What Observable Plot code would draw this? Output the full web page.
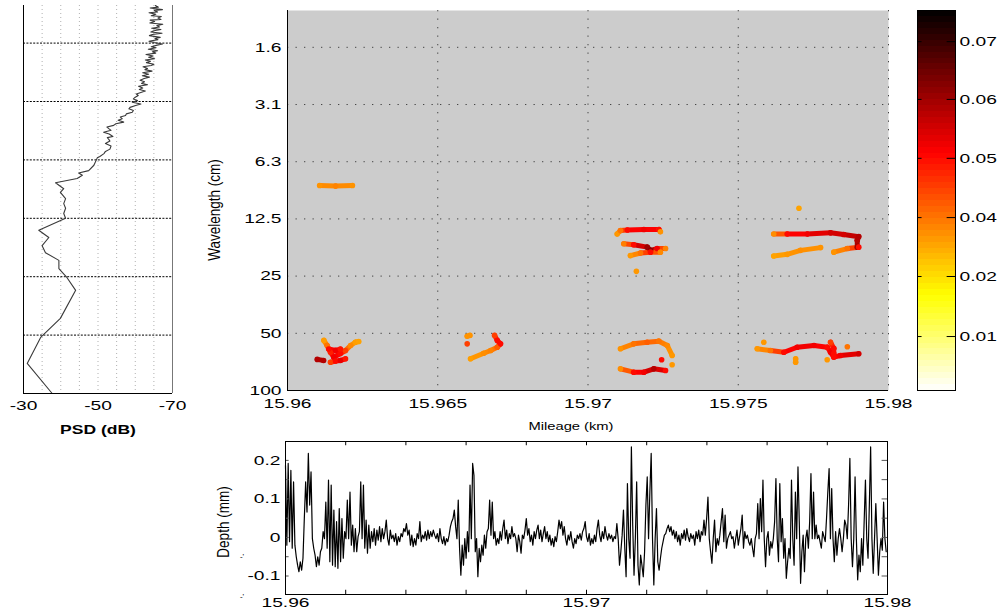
<!DOCTYPE html>
<html><head><meta charset="utf-8">
<script src="https://cdn.jsdelivr.net/npm/d3@7"></script>
<script src="https://cdn.jsdelivr.net/npm/@observablehq/plot@0.6"></script>
<style>
body{margin:0;background:#fff;}
#chart{position:relative;width:999px;height:612px;overflow:hidden;background:#fff;font-family:"Liberation Sans",Arial,sans-serif;color:#000;}
.ttl{position:absolute;white-space:nowrap;line-height:1;color:#000;font-family:"Liberation Sans",Arial,sans-serif;}
</style></head><body><div id="chart"></div>
<script>
// ---------- axis ticks / labels ----------
const wlTicks = [1.5625, 3.125, 6.25, 12.5, 25, 50, 100];
const wlTickLabels = ["1.6","3.1","6.3","12.5","25","50","100"];
const mileageTicks = [15.96, 15.965, 15.97, 15.975, 15.98];
const mileageTickLabels = ["15.96","15.965","15.97","15.975","15.98"];
const psdTicks = [-30, -50, -70];
const psdTickLabels = ["-30","-50","-70"];
const psdGrid = [-35, -40, -45, -50, -55, -60, -65];
const depthTicks = [-0.1, 0, 0.1, 0.2];
const depthTickLabels = ["-0.1","0","0.1","0.2"];
const depthMinorTicks = [-0.1, -0.05, 0, 0.05, 0.1, 0.15, 0.2];
const depthMileTicks = [15.96, 15.962, 15.964, 15.966, 15.968, 15.97, 15.972, 15.974, 15.976, 15.978, 15.98];
const depthMileLabelTicks = [15.96, 15.97, 15.98];
const depthMileLabels = ["15.96","15.97","15.98"];
const cbTickValues = [0.01, 0.02, 0.04, 0.05, 0.06, 0.07];
const cbTickLabels = ["0.01","0.02","0.04","0.05","0.06","0.07"];
const cbTickPos = [0.142, 0.300, 0.455, 0.611, 0.766, 0.918];

// ---------- PSD (left panel) ----------
const psdWavelength = [1.00,1.02,1.03,1.05,1.06,1.08,1.09,1.11,1.13,1.14,1.16,1.18,1.19,1.21,1.23,1.25,1.27,1.29,1.31,1.33,1.35,1.37,1.39,1.41,1.43,1.46,1.48,1.50,1.53,1.55,1.58,1.60,1.63,1.65,1.68,1.71,1.73,1.76,1.79,1.82,1.85,1.88,1.91,1.94,1.97,2.01,2.04,2.07,2.11,2.14,2.18,2.22,2.26,2.30,2.34,2.38,2.43,2.47,2.52,2.56,2.61,2.66,2.71,2.76,2.81,2.86,2.91,2.97,3.03,3.09,3.15,3.22,3.28,3.35,3.41,3.48,3.55,3.62,3.69,3.76,3.83,3.90,3.99,4.07,4.15,4.23,4.31,4.40,4.50,4.60,4.73,4.80,4.90,5.00,5.15,5.30,5.50,5.65,5.80,6.00,6.10,6.66,7.10,7.30,7.50,7.80,8.20,8.80,9.20,9.90,10.5,11.1,11.8,12.5,14.4,15.7,17.3,18.8,20.6,22.7,25.3,29.4,41,51.4,70,100];
const psdDb = [-65.4,-66.2,-64.0,-67.3,-65.1,-66.0,-63.7,-65.5,-64.3,-67.0,-66.1,-66.9,-64.0,-65.2,-63.9,-67.4,-65.8,-66.5,-64.4,-66.9,-65.0,-64.2,-67.2,-64.6,-63.8,-66.7,-65.3,-66.1,-63.7,-65.0,-67.3,-65.9,-64.3,-65.6,-63.5,-66.0,-64.6,-65.5,-62.9,-64.8,-63.6,-65.2,-62.7,-64.1,-63.0,-65.0,-64.3,-62.1,-63.3,-62.6,-64.5,-62.0,-63.6,-61.9,-63.8,-62.4,-61.3,-62.5,-61.7,-63.3,-60.9,-62.0,-61.1,-62.7,-61.5,-60.3,-60.8,-60.0,-59.5,-60.6,-59.2,-61.5,-60.1,-58.6,-58.3,-59.5,-59.2,-57.6,-57.4,-56.0,-56.5,-55.4,-56.9,-54.8,-54.2,-52.4,-52.9,-53.5,-51.5,-53.0,-54.0,-52.5,-52.9,-53.2,-52.0,-53.5,-53.2,-52.0,-51.6,-50.5,-49.8,-48.9,-47.5,-44.8,-45.8,-44.4,-38.6,-40.8,-39.9,-41.3,-40.8,-41.3,-40.8,-41.3,-34.1,-36.8,-35.0,-35.9,-39.5,-39.5,-41.7,-44.0,-39.9,-34.6,-31.0,-37.7];

// ---------- wavelength-mileage tracks: [mileage km, wavelength cm, amplitude] ----------
const trackA = [[15.96107,8.34,0.034],[15.9616,8.4,0.037],[15.96216,8.34,0.034]];
const trackB = [[15.96121,54.5,0.032],[15.96132,58.0,0.040],[15.96143,62.9,0.048],[15.96154,66.8,0.052],[15.96176,63.9,0.050],[15.96193,61.6,0.045],[15.9621,58.0,0.036],[15.96226,55.7,0.032],[15.96237,55.2,0.031]];
const trackC = [[15.96137,60.5,0.050],[15.9616,61.5,0.052],[15.96176,60.5,0.049]];
const trackD = [[15.96143,71.0,0.045],[15.9616,70.0,0.050],[15.96176,69.5,0.053],[15.96193,68.1,0.049]];
const trackE = [[15.96099,68.6,0.058],[15.9612,69.5,0.058]];
const trackF = [[15.96598,51.8,0.034],[15.96607,51.3,0.034]];
const trackG = [[15.96598,56.8,0.045]];
const trackH = [[15.96609,68.1,0.032],[15.96653,63.7,0.035],[15.96676,61.6,0.037],[15.96698,59.2,0.042],[15.96709,56.8,0.050],[15.96698,54.5,0.050],[15.96689,51.3,0.045]];
const trackI = [[15.97097,15.0,0.033],[15.97108,14.4,0.040],[15.97131,14.3,0.050],[15.97186,14.2,0.052],[15.97236,14.2,0.050],[15.97241,14.6,0.034]];
const trackJ = [[15.97119,16.9,0.038],[15.97152,17.1,0.050],[15.97197,17.6,0.060],[15.97208,18.3,0.062],[15.9723,17.9,0.052],[15.97258,17.9,0.037]];
const trackK = [[15.97141,19.5,0.033],[15.97175,18.9,0.040],[15.97208,18.7,0.050],[15.97241,18.7,0.036]];
const trackL = [[15.97161,23.6,0.033]];
const trackM = [[15.97618,15.0,0.035],[15.97663,15.0,0.050],[15.9773,15.0,0.052],[15.97807,14.8,0.055],[15.97851,15.1,0.055],[15.97901,15.5,0.058],[15.97896,16.2,0.058],[15.97896,17.6,0.060]];
const trackN = [[15.97618,19.6,0.031],[15.97663,19.2,0.033],[15.97707,18.3,0.035],[15.97774,17.7,0.034]];
const trackO = [[15.97818,18.7,0.034],[15.97863,17.9,0.040],[15.97901,17.6,0.050]];
const trackP = [[15.97702,10.98,0.031]];
const trackQ = [[15.97108,60.3,0.034],[15.97152,56.8,0.040],[15.97197,55.7,0.042],[15.97236,55.0,0.040],[15.97264,58.0,0.036],[15.9728,65.4,0.033]];
const trackR = [[15.97245,68.9,0.050]];
const trackS = [[15.9728,73.2,0.033]];
const trackT = [[15.97108,76.9,0.035],[15.97152,80.1,0.050],[15.97186,80.1,0.052],[15.97219,76.9,0.058],[15.97258,78.5,0.050]];
const trackU = [[15.97563,60.3,0.033],[15.97607,61.6,0.040],[15.97652,62.9,0.050],[15.97696,59.2,0.052],[15.97752,58.0,0.052],[15.97796,59.2,0.050],[15.97807,62.9,0.052],[15.97818,66.8,0.050],[15.9784,65.4,0.052],[15.97901,64.1,0.055]];
const trackV = [[15.97807,55.7,0.045],[15.97818,60.0,0.050],[15.97818,64.0,0.050]];
const trackW = [[15.97585,55.7,0.033]];
const trackX = [[15.97691,68.1,0.033],[15.97691,71.0,0.033]];
const trackY = [[15.97863,58.8,0.040]];
const trackZ = [[15.97796,68.9,0.033]];
const tracks = [trackA,trackB,trackC,trackD,trackE,trackF,trackG,trackH,trackI,trackJ,trackK,trackL,trackM,trackN,trackO,trackP,trackQ,trackR,trackS,trackT,trackU,trackV,trackW,trackX,trackY,trackZ];

// ---------- depth signal (four uniformly sampled stretches) ----------
const depthSegStart = [15.96, 15.965, 15.97, 15.975];
const depthSegEnd = [15.965, 15.97, 15.975, 15.98];
const depthSeg1 = [0.187,-0.020,0.192,-0.011,0.174,-0.028,0.144,-0.020,-0.050,-0.072,
-0.089,-0.063,-0.085,-0.054,0.049,0.144,0.066,0.218,0.084,0.170,
-0.003,-0.028,-0.046,-0.076,-0.050,-0.072,-0.037,-0.028,0.015,-0.003,
0.092,-0.028,0.149,-0.063,0.136,-0.072,0.071,-0.076,0.041,-0.080,
0.075,-0.063,0.049,-0.054,0.015,-0.003,0.097,-0.003,0.118,-0.020,
0.032,-0.037,0.023,-0.037,0.002,0.015,0.144,-0.003,0.136,-0.028,
0.045,-0.041,0.032,-0.028,0.015,-0.011,0.023,-0.020,0.019,-0.007,
0.028,-0.011,0.023,-0.003,0.015,0.045,-0.003,-0.020,0.019,-0.003,
0.006,-0.011,0.010,-0.020,0.002,-0.011,0.010,0.002,0.023,0.015,
0.036,0.006,0.019,-0.020,0.006,-0.024,-0.003,-0.020,0.010,-0.003,
0.041,-0.011,0.006,-0.003,0.015,-0.007,0.019,-0.003,0.015,0.002,
0.019,0.006];
const depthSeg2 = [-0.003,0.010,-0.011,0.023,-0.003,-0.016,0.002,-0.020,-0.003,-0.011,
0.006,0.028,0.041,0.049,0.071,0.028,-0.003,0.097,-0.028,-0.098,
-0.020,-0.072,-0.003,-0.054,0.015,-0.037,0.136,-0.003,0.192,0.161,
-0.037,-0.003,-0.102,-0.028,-0.063,-0.020,-0.046,0.006,-0.028,0.015,
0.023,0.097,0.006,0.092,-0.003,0.015,-0.020,-0.003,-0.016,0.015,
-0.007,0.023,0.045,-0.003,0.019,-0.016,0.010,-0.003,0.028,0.002,
0.010,-0.003,-0.037,0.006,-0.011,-0.041,0.006,-0.003,0.019,0.049,
0.006,0.023,-0.011,0.006,-0.020,0.015,-0.003,0.019,0.032,-0.003,
0.019,-0.011,0.010,0.028,-0.003,0.015,-0.011,0.006,-0.020,-0.003,
-0.024,0.002,-0.011,0.015,0.045,0.023,0.041,0.006,0.028,-0.003,
-0.020,0.006,-0.007,0.015,-0.011,-0.028,-0.003,-0.016,0.006,-0.003,
0.010,-0.007,0.015,0.023,0.041];
const depthSeg3 = [0.002,-0.011,0.010,-0.020,-0.003,-0.016,0.006,-0.011,0.023,0.045,
0.006,-0.011,0.015,-0.003,0.028,0.006,-0.007,0.010,-0.003,0.006,
-0.011,0.002,-0.003,0.036,-0.003,-0.072,-0.037,0.006,0.071,-0.028,
-0.102,0.140,-0.003,-0.054,0.235,0.032,-0.098,-0.003,0.144,-0.072,
-0.123,-0.046,-0.072,-0.102,-0.037,0.084,0.157,-0.003,0.118,0.218,
-0.003,-0.123,-0.003,0.075,-0.063,-0.085,-0.054,-0.028,-0.011,0.006,
0.010,0.023,0.032,0.015,0.028,0.006,0.019,-0.003,0.015,-0.011,
0.006,-0.020,0.010,-0.003,0.019,-0.007,0.023,0.002,-0.011,0.010,
-0.003,0.006,-0.020,0.015,-0.003,0.019,-0.011,0.015,0.006,0.045,
0.006,0.049,0.105,-0.003,-0.037,-0.067,-0.003,0.045,-0.037,-0.003,
-0.020,0.006,0.041,0.075,-0.011,0.058,-0.028,-0.003,0.006,0.015,
-0.003,0.002,-0.028,-0.003];
const depthSeg4 = [0.019,-0.020,0.002,0.023,0.058,-0.028,0.015,-0.003,0.006,-0.011,
-0.020,-0.003,-0.028,-0.050,-0.003,0.010,0.088,-0.003,0.101,0.015,
0.149,-0.003,-0.076,-0.003,0.015,-0.046,-0.011,-0.028,-0.003,0.041,
0.153,-0.003,-0.063,0.140,-0.011,0.049,-0.054,-0.003,-0.106,-0.063,
-0.028,-0.054,0.149,-0.003,-0.072,0.118,-0.003,0.183,0.041,-0.119,
-0.037,0.006,-0.089,-0.003,0.019,-0.028,0.041,0.166,-0.003,0.118,
-0.003,0.032,-0.003,0.006,-0.011,-0.028,0.015,0.002,-0.011,0.049,
0.118,0.179,-0.003,0.127,-0.003,-0.063,0.015,-0.046,-0.003,0.023,
-0.003,-0.037,-0.003,0.045,0.032,-0.003,0.084,0.205,-0.003,-0.076,
-0.003,0.157,-0.003,-0.110,-0.046,-0.089,-0.003,-0.072,0.041,0.149,
-0.003,-0.054,0.084,0.235,-0.003,-0.093,-0.003,0.088,-0.003,-0.098,
-0.037,-0.003,-0.033,0.092,-0.003,-0.037];
const depthSegs = [depthSeg1, depthSeg2, depthSeg3, depthSeg4];

// ---------- derived tables ----------
const psdRows = psdWavelength.map((w, i) => ({wl: w, db: psdDb[i]}));
const trackSegs = [], trackPts = [];
tracks.forEach(t => {
  t.forEach(p => trackPts.push({m: p[0], wl: p[1], a: p[2]}));
  for (let i = 0; i < t.length - 1; i++)
    trackSegs.push({x1: t[i][0], y1: t[i][1], x2: t[i+1][0], y2: t[i+1][1], a: (t[i][2] + t[i+1][2]) / 2});
});
const depthRows = [];
depthSegs.forEach((seg, k) => {
  const step = (depthSegEnd[k] - depthSegStart[k]) / seg.length;
  seg.forEach((v, i) => depthRows.push({m: depthSegStart[k] + i * step, d: v}));
});
const wlLabelRows = wlTicks.map((v, i) => ({v, label: wlTickLabels[i]}));
const cbLevels = d3.range(64);

// reversed "hot" colormap: 0 = white, 1 = black
function hotR(p) {
  const s = 1 - p, c = v => Math.max(0, Math.min(1, v));
  return d3.rgb(255 * c(s / 0.375), 255 * c((s - 0.375) / 0.375), 255 * c((s - 0.75) / 0.25)).formatHex();
}
const fmt = (ticks, labels) => d => {
  const i = ticks.findIndex(t => Math.abs(t - d) <= 1e-9 * Math.max(1, Math.abs(t)));
  return i < 0 ? "" : labels[i];
};
const baseStyle = {background: "transparent", fontFamily: "'Liberation Sans', Arial, sans-serif", fontSize: "13.5px", color: "#000", overflow: "visible"};
const gridStyle = {stroke: "#444", strokeDasharray: "1.3,7.2", strokeWidth: 1};

const chart = document.getElementById("chart");
function place(el, left, top) { el.style.position = "absolute"; el.style.left = left + "px"; el.style.top = top + "px"; chart.appendChild(el); return el; }

// Left PSD panel
const psdPlot = Plot.plot({
  width: 200, height: 420, marginLeft: 23, marginRight: 28, marginTop: 5, marginBottom: 27,
  style: baseStyle,
  x: {domain: [-30, -70], ticks: psdTicks, tickFormat: fmt(psdTicks, psdTickLabels), tickSize: 0, tickPadding: 7, label: null},
  y: {type: "log", domain: [1, 100], reverse: true, axis: null},
  marks: [
    Plot.ruleX(psdGrid, {stroke: "#b0b0b0", strokeDasharray: "1,3", strokeWidth: 1}),
    Plot.ruleY(wlTicks.slice(0, -1), {stroke: "#000", strokeDasharray: "2,1.4", strokeWidth: 1}),
    Plot.line(psdRows, {x: "db", y: "wl", stroke: "#3a3a3a", strokeWidth: 1.1, curve: "linear"}),
    Plot.ruleX([-30], {stroke: "#000"}),
    Plot.ruleX([-70], {stroke: "#777"}),
    Plot.ruleY([100], {stroke: "#000"})
  ]
});
place(psdPlot, 0, 0);

// Main wavelength-mileage panel
const mainPlot = Plot.plot({
  width: 700, height: 420, marginLeft: 87, marginRight: 12, marginTop: 10, marginBottom: 30,
  style: baseStyle,
  x: {domain: [15.96, 15.98], ticks: mileageTicks, tickFormat: fmt(mileageTicks, mileageTickLabels), tickSize: 0, tickPadding: 8, label: null},
  y: {type: "log", domain: [1, 100], reverse: true, axis: null},
  color: {type: "linear", domain: [0, ...cbTickValues, 0.0754], range: [0, ...cbTickPos, 1], interpolate: hotR, clamp: true},
  marks: [
    Plot.frame({fill: "#cccccc", stroke: "none"}),
    Plot.ruleX(mileageTicks.slice(1), gridStyle),
    Plot.ruleY(wlTicks.slice(0, -1), gridStyle),
    Plot.link(trackSegs, {x1: "x1", y1: "y1", x2: "x2", y2: "y2", stroke: "a", strokeWidth: 5, strokeLinecap: "round", strokeLinejoin: "round"}),
    Plot.dot(trackPts, {x: "m", y: "wl", fill: "a", r: 2.8, stroke: "none"}),
    Plot.text(wlLabelRows, {x: 15.96, y: "v", text: "label", textAnchor: "end", dx: -6, fill: "#000"}),
    Plot.ruleX([15.96], {stroke: "#000"}),
    Plot.ruleY([100], {stroke: "#000"})
  ]
});
place(mainPlot, 200, 0);

// Colorbar
const cbPlot = Plot.plot({
  width: 99, height: 420, marginLeft: 17, marginRight: 44, marginTop: 10, marginBottom: 30,
  style: baseStyle,
  x: {domain: [0, 1], axis: null},
  y: {domain: [0, 1], axis: "right", ticks: cbTickPos, tickFormat: fmt(cbTickPos, cbTickLabels), tickSize: 0, tickPadding: 4, label: null},
  color: {type: "linear", domain: [0, 1], interpolate: hotR},
  marks: [
    Plot.rect(cbLevels, {x1: 0, x2: 1, y1: d => d / 64, y2: d => (d + 1) / 64, fill: d => (d + 0.5) / 64, shapeRendering: "crispEdges"}),
    Plot.ruleY(cbTickPos, {x1: 0, x2: 0.12, stroke: "#000"}),
    Plot.ruleY(cbTickPos, {x1: 0.78, x2: 1, stroke: "#000"}),
    Plot.frame({stroke: "#000"})
  ]
});
place(cbPlot, 900, 0);

// Bottom depth panel
const dMin = -0.148, dMax = 0.249;
const depthPlot = Plot.plot({
  width: 799, height: 177, marginLeft: 85, marginRight: 112, marginTop: 6, marginBottom: 18,
  style: baseStyle,
  x: {domain: [15.96, 15.98], ticks: depthMileLabelTicks, tickFormat: fmt(depthMileLabelTicks, depthMileLabels), tickSize: 0, tickPadding: 3, label: null},
  y: {domain: [dMin, dMax], ticks: depthTicks, tickFormat: fmt(depthTicks, depthTickLabels), tickSize: 0, tickPadding: 5, label: null},
  marks: [
    Plot.line(depthRows, {x: "m", y: "d", stroke: "#000", strokeWidth: 1.2}),
    Plot.ruleX(depthMileTicks, {y1: dMin, y2: dMin + 0.011, stroke: "#000"}),
    Plot.ruleX(depthMileTicks, {y1: dMax, y2: dMax - 0.011, stroke: "#000"}),
    Plot.ruleY(depthMinorTicks, {x1: 15.98 - 0.00018, x2: 15.98, stroke: "#555"}),
    Plot.ruleY(depthMinorTicks, {x1: 15.96, x2: 15.96 + 0.00012, stroke: "#555"}),
    Plot.frame({stroke: "#000"})
  ]
});
place(depthPlot, 200, 435);

// horizontally stretched tick labels (as in the reference)
chart.querySelectorAll("svg text").forEach(t => {
  const len = t.getComputedTextLength();
  if (len > 0) { t.setAttribute("textLength", (len * 1.42).toFixed(2)); t.setAttribute("lengthAdjust", "spacingAndGlyphs"); }
});

// titles
function title(text, cx, cy, size, transform, weight) {
  const d = document.createElement("div");
  d.className = "ttl"; d.textContent = text;
  d.style.left = cx + "px"; d.style.top = cy + "px"; d.style.fontSize = size + "px";
  if (weight) d.style.fontWeight = weight;
  d.style.transform = "translate(-50%,-50%) " + transform;
  chart.appendChild(d);
}
title("PSD (dB)", 98, 430, 12.5, "scaleX(1.4)", "bold");
title("Mileage (km)", 571, 427, 11.5, "scaleX(1.28)");
title("Wavelength (cm)", 215, 210, 13.5, "scaleX(1.25) rotate(-90deg)");
title("Depth (mm)", 224, 522, 13.5, "scaleX(1.25) rotate(-90deg)");
title("-'", 242, 557, 8, "");
title("-'", 242, 597, 8, "");
</script></body></html>
